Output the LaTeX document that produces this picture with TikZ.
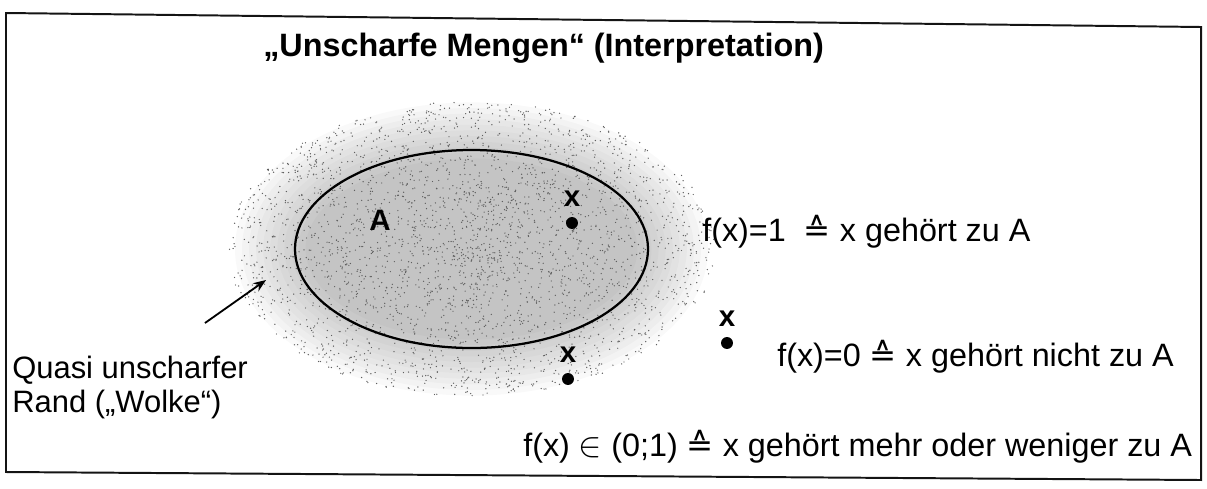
\documentclass[tikz,border=0pt]{standalone}
\usepackage{fontspec}
\setmainfont{Liberation Sans}
\newfontfamily\symfont{DejaVu Sans}
\usepackage{tikz}
\usetikzlibrary{positioning,arrows.meta}
\usepackage{xcolor}
\definecolor{framegray}{RGB}{20,20,20}
\definecolor{speckgray}{RGB}{95,95,95}
\newcommand{\entspr}{{\symfont ≙}}

\begin{document}
\begin{tikzpicture}[x=0.025cm,y=-0.025cm,
  txt/.style={font=\fontsize{23}{27}\selectfont, inner sep=0pt},
  xlab/.style={font=\fontsize{21}{24}\selectfont\bfseries, inner sep=0pt},
  elem/.style={circle, fill=black, inner sep=0pt, minimum size=8.5pt}]
\useasboundingbox (0,0) rectangle (1207,488);
% Rahmen
\draw[line width=1.4pt,framegray] (6,13) -- (1201,27) -- (1201,480) -- (6,472) -- cycle;
% Titel
\node[anchor=base west, inner sep=0pt, font=\fontsize{23}{27}\selectfont\bfseries] (titel) at (263,56) {„Unscharfe Mengen“ (Interpretation)};
% Wolke
\coordinate (mitte) at (471.5,249);
\foreach \f in {1.34,1.30,...,0.94}
  \fill[black, fill opacity=0.022] (mitte) ellipse [x radius={176.5*\f}, y radius={99+(\f-1)*140}];
\pgfmathsetseed{4711}
\foreach \i in {1,...,3000}{
  \pgfmathsetmacro{\rr}{1.38*rnd^0.6}
  \pgfmathsetmacro{\ww}{360*rnd}
  \fill[speckgray] ({471.5+176.5*\rr*cos(\ww)},{249+107*\rr*sin(\ww)}) circle [radius=0.7];
}
% Menge A
\draw[line width=1.6pt] (mitte) ellipse [x radius=176.5, y radius=99];
\node[font=\fontsize{21}{24}\selectfont\bfseries] (labA) at (380,220) {A};
% Elemente x
\node[elem] (p1) at (572,223) {};
\node[xlab, above=7pt of p1] (x1) {x};
\node[elem] (p2) at (568,379) {};
\node[xlab, above=7pt of p2] (x2) {x};
\node[elem] (p3) at (727,343) {};
\node[xlab, above=7pt of p3] (x3) {x};
% Zugehoerigkeit
\node[txt, anchor=base west] (t1) at (702,241) {f(x)=1\ \ \entspr\ x gehört zu A};
\node[txt, anchor=base west] (t2) at (777,366) {f(x)=0 \entspr\ x gehört nicht zu A};
\node[txt, anchor=base west] (t3) at (523,456) {f(x) $\in$ (0;1) \entspr\ x gehört mehr oder weniger zu A};
% Rand
\node[font=\fontsize{22}{24}\selectfont, inner sep=0pt, anchor=base west, align=left] (rand) at (12,412) {Quasi unscharfer\\Rand („Wolke“)};
\coordinate (pfeilfuss) at (205,323);
\coordinate (pfeilspitze) at (266,280);
\draw[-{Stealth[length=9pt,width=7pt]}, line width=1.3pt] (pfeilfuss) -- (pfeilspitze);
\end{tikzpicture}
\end{document}
